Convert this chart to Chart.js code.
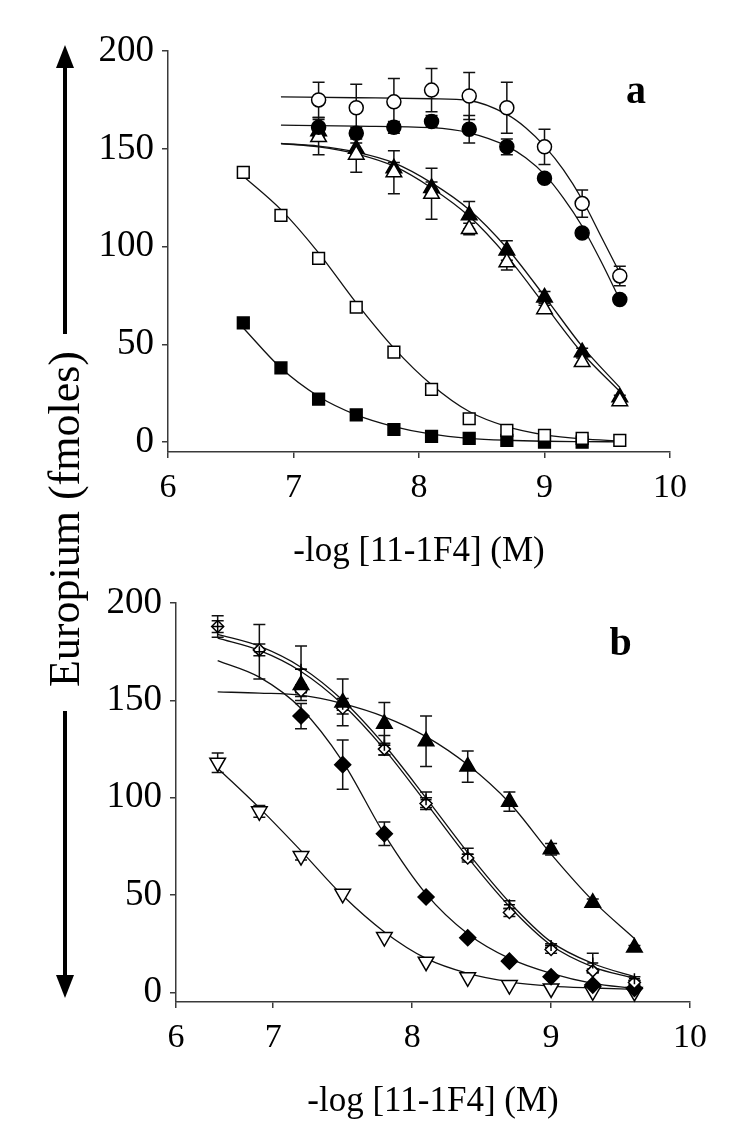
<!DOCTYPE html>
<html>
<head>
<meta charset="utf-8">
<script src="https://cdn.jsdelivr.net/npm/chart.js@4.4.1/dist/chart.umd.min.js"></script>
<style>
  html, body { margin: 0; padding: 0; background: #fff; }
  #wrap { position: relative; width: 750px; height: 1146px; }
  canvas { position: absolute; left: 0; }
</style>
</head>
<body>
<div id="wrap">
  <canvas id="chartA" width="750" height="573" style="top:0"></canvas>
  <canvas id="chartB" width="750" height="573" style="top:573px"></canvas>
  <canvas id="yLabel" width="100" height="1146" style="top:0"></canvas>
</div>
<script>
// ---- doses : -log [11-1F4] (M) ----
const doses = [6.6, 6.9, 7.2, 7.5, 7.8, 8.1, 8.4, 8.7, 9.0, 9.3, 9.6];
const dosesFrom72 = doses.slice(2);
const dosesFrom69 = doses.slice(1);

const yTicks = [0, 50, 100, 150, 200];
const xTicksA = [6, 7, 8, 9, 10];
const xTicksB = [6.3, 7, 8, 9, 10];
const xTickLabels = ["6", "7", "8", "9", "10"];

// ---- panel a : measured points (fmoles) and SEM ----
const openCircleA   = [175, 171, 174, 180, 177, 171, 151, 122, 85];
const openCircleErrA = [9, 12, 12, 11, 12, 13, 9, 7, 5];
const filledCircleA = [161, 158, 161, 164, 160, 151, 135, 107, 73];
const filledCircleErrA = [5, 3, 3, 3, 7, 4, 2, 2, 2];
const filledTriA    = [159, 150, 140, 130, 116, 98, 74, 46, 23];
const filledTriErrA = [3, 3, 3, 3, 7, 5, 3, 2, 1];
const openTriA      = [156, 147, 138, 127, 109, 92, 68, 41, 21];
const openTriErrA   = [9, 9, 11, 13, 3, 4, 2, 2, 1];
const openSquareA   = [138, 116, 94, 69, 46, 27, 12, 6, 3.5, 2, 1];
const filledSquareA = [61, 38, 22, 14, 6.5, 3, 2, 1, 0, 0];

// ---- panel a : fitted curves ----
const circleFitX       = [6.9, 7.5, 8.1, 8.4, 8.7, 8.85, 9.0, 9.15, 9.3, 9.45, 9.6];
const openCircleFitA   = [176.5, 176.1, 175.6, 174.7, 167.6, 160.8, 151.4, 139.4, 124.1, 105.3, 86.5];
const filledCircleFitA = [162.1, 161.6, 160.8, 158.2, 151.4, 145.4, 136.9, 124.9, 110.4, 92.5, 72.9];
const filledTriFitA    = [152.7, 151.4, 148.3, 142.8, 132.6, 118.9, 99.3, 74.6, 49.0, 28.0];
const openTriFitA      = [152.7, 151.0, 147.4, 141.1, 130.0, 115.5, 95.1, 70.3, 45.6, 25.9];
const openSquareFitA   = [136.0, 118.9, 96.8, 71.2, 48.1, 29.4, 15.7, 8.0, 3.8, 1.7, 0.7];
const filledSquareFitA = [58.4, 37.9, 23.4, 14.0, 8.0, 4.1, 2.0, 1.0, 0.5, 0.3, 0.2];

// ---- panel b : measured points and SEM ----
const filledTriB      = [158, 149, 138, 129, 116, 98, 73.5, 46, 23];
const filledTriErrB   = [8, 12, 11, 13, 8, 5, 3, 2, 1];
const openDiamondB    = [188, 176, 155, 146, 125, 97, 69, 41, 22, 11, 5];
const openDiamondErrB = [3, 3, 3, 3, 3, 3, 2, 2, 2, 1, 1];
const crossB          = [188, 175, 166, 148, 127, 99, 71, 45, 24, 15, 7];
const crossErrB       = [5.5, 14, 12, 3, 5, 4, 3, 2, 1, 5, 1];
const filledDiamondB  = [142, 117, 81.5, 49, 28, 16, 8, 3.7, 2];
const filledDiamondErrB = [6.5, 12.7, 6, 0, 0, 0, 0, 0, 0];
const downTriB        = [118, 93, 70, 50.6, 28.4, 15.7, 7.7, 3.7, 2, 0.5, 0.2];
const downTriErrB     = [5, 3, 2, 0, 0, 0, 0, 0, 0, 0, 0];

// ---- panel b : fitted curves ----
const filledTriFitB     = [154.4, 153.8, 152.7, 148.4, 141.6, 131.4, 116.9, 97.4, 71.0, 47.1, 27.6];
const crossFitB         = [184.0, 177.9, 167.1, 150.1, 127.1, 99.9, 71.8, 46.3, 25.9, 14.8, 8.0];
const openDiamondFitB   = [182.0, 175.7, 164.9, 147.9, 124.9, 97.4, 69.3, 44.1, 24.2, 13.1, 7.1];
const filledDiamondFitB = [170.5, 162.0, 145.9, 118.6, 81.2, 50.6, 30.1, 17.4, 9.7, 4.6, 2.0];
const downTriFitB       = [115.2, 94.8, 72.7, 49.7, 31.0, 17.4, 9.7, 5.4, 3.2, 2.2, 1.5];

const serif = '"Liberation Serif", "Times New Roman", serif';
const axisColor = "#3a3a3a";

// ---- helpers ----
function toPoints(xs, ys) {
    return ys.map((v, i) => ({ x: xs[i], y: v }));
}

function markers(xs, ys, errs, style, fill, radius, extra) {
    return Object.assign({
        data: toPoints(xs, ys),
        errors: errs,
        showLine: false,
        pointStyle: style,
        pointRadius: radius,
        pointHoverRadius: radius,
        pointBackgroundColor: fill,
        pointBorderColor: "#000",
        pointBorderWidth: 1.5,
        clip: false,
        order: 0
    }, extra || {});
}

function fitCurve(xs, ys) {
    return {
        data: toPoints(xs, ys),
        showLine: true,
        pointRadius: 0,
        borderColor: "#111",
        borderWidth: 1.3,
        cubicInterpolationMode: "monotone",
        order: 1
    };
}

// error bars drawn through the chart's own scales
const errorBars = {
    id: "errorBars",
    beforeDatasetsDraw(chart) {
        const { ctx, scales: { x, y } } = chart;
        ctx.save();
        ctx.strokeStyle = "#111";
        ctx.lineWidth = 1.5;
        chart.data.datasets.forEach(ds => {
            if (!ds.errors) return;
            ds.data.forEach((p, i) => {
                const e = ds.errors[i];
                if (!e) return;
                const px = x.getPixelForValue(p.x);
                const top = y.getPixelForValue(p.y + e);
                const bot = y.getPixelForValue(p.y - e);
                ctx.beginPath();
                ctx.moveTo(px, top); ctx.lineTo(px, bot);
                ctx.moveTo(px - 6, top); ctx.lineTo(px + 6, top);
                ctx.moveTo(px - 6, bot); ctx.lineTo(px + 6, bot);
                ctx.stroke();
            });
        });
        ctx.restore();
    }
};

// panel letter (a / b)
const panelLetter = {
    id: "panelLetter",
    afterDraw(chart, args, opts) {
        const { ctx, scales: { x, y } } = chart;
        ctx.save();
        ctx.font = "bold 40px " + serif;
        ctx.fillStyle = "#000";
        ctx.textAlign = "center";
        ctx.textBaseline = "middle";
        ctx.fillText(opts.text, x.getPixelForValue(opts.x), y.getPixelForValue(opts.y));
        ctx.restore();
    }
};

function xScale(min, tickValues, height) {
    return {
        type: "linear", min: min, max: 10,
        afterBuildTicks: s => { s.ticks = tickValues.map(v => ({ value: v })); },
        afterFit: s => { s.height = height; },
        grid: { drawOnChartArea: false, drawTicks: true, tickLength: 6, color: axisColor, lineWidth: 1.5 },
        border: { display: true, color: axisColor, width: 1.5 },
        ticks: {
            padding: 10, color: "#000", maxRotation: 0, autoSkip: false,
            font: { family: serif, size: 34 },
            callback: (v, i) => xTickLabels[i]
        },
        title: { display: true, text: "-log [11-1F4] (M)", color: "#000", padding: 0, font: { family: serif, size: 35 } }
    };
}

function yScale(width) {
    return {
        type: "linear", min: -5, max: 200,
        afterBuildTicks: s => { s.ticks = yTicks.map(v => ({ value: v })); },
        afterFit: s => { s.width = width; },
        grid: { drawOnChartArea: false, drawTicks: true, tickLength: 6, color: axisColor, lineWidth: 1.5 },
        border: { display: true, color: axisColor, width: 1.5 },
        ticks: { padding: 8, color: "#000", font: { family: serif, size: 37 }, callback: v => String(v) }
    };
}

function baseOptions(padding, xs, ys, letter) {
    return {
        responsive: false,
        animation: false,
        layout: { padding: padding },
        plugins: { legend: { display: false }, tooltip: { enabled: false }, panelLetter: letter },
        scales: { x: xs, y: ys }
    };
}

// ---- panel a ----
new Chart(document.getElementById("chartA"), {
    type: "scatter",
    data: {
        datasets: [
            markers(dosesFrom72, openCircleA, openCircleErrA, "circle", "#fff", 7),
            markers(dosesFrom72, filledCircleA, filledCircleErrA, "circle", "#000", 7),
            markers(dosesFrom72, openTriA, openTriErrA, "triangle", "#fff", 9),
            markers(dosesFrom72, filledTriA, filledTriErrA, "triangle", "#000", 9),
            markers(doses, openSquareA, null, "rect", "#fff", 8.3),
            markers(doses, filledSquareA, null, "rect", "#000", 8.3),
            fitCurve(circleFitX, openCircleFitA),
            fitCurve(circleFitX, filledCircleFitA),
            fitCurve(dosesFrom69, filledTriFitA),
            fitCurve(dosesFrom69, openTriFitA),
            fitCurve(doses, openSquareFitA),
            fitCurve(doses, filledSquareFitA)
        ]
    },
    options: baseOptions({ left: 0, right: 80, top: 51, bottom: 0 },
        xScale(6, xTicksA, 121), yScale(168), { text: "a", x: 9.73, y: 178.5 }),
    plugins: [errorBars, panelLetter]
});

// ---- panel b ----
new Chart(document.getElementById("chartB"), {
    type: "scatter",
    data: {
        datasets: [
            markers(dosesFrom72, filledTriB, filledTriErrB, "triangle", "#000", 9),
            markers(doses, crossB, crossErrB, "cross", "#000", 5.5),
            markers(doses, openDiamondB, openDiamondErrB, "rectRot", "#fff", 6),
            markers(dosesFrom72, filledDiamondB, filledDiamondErrB, "rectRot", "#000", 8),
            markers(doses, downTriB, downTriErrB, "triangle", "#fff", 9, { pointRotation: 180 }),
            fitCurve(doses, filledTriFitB),
            fitCurve(doses, crossFitB),
            fitCurve(doses, openDiamondFitB),
            fitCurve(doses, filledDiamondFitB),
            fitCurve(doses, downTriFitB)
        ]
    },
    options: baseOptions({ left: 0, right: 60, top: 28, bottom: 23 },
        xScale(6.3, xTicksB, 121), yScale(176), { text: "b", x: 9.5, y: 178.5 }),
    plugins: [errorBars, panelLetter]
});

// ---- shared y label with arrows ----
const lc = document.getElementById("yLabel").getContext("2d");
lc.fillStyle = "#000";
lc.strokeStyle = "#000";
lc.lineWidth = 4;
lc.beginPath(); lc.moveTo(65, 62); lc.lineTo(65, 334); lc.stroke();
lc.beginPath(); lc.moveTo(65, 45); lc.lineTo(56, 68); lc.lineTo(74, 68); lc.closePath(); lc.fill();
lc.beginPath(); lc.moveTo(65, 711); lc.lineTo(65, 980); lc.stroke();
lc.beginPath(); lc.moveTo(65, 998); lc.lineTo(56, 975); lc.lineTo(74, 975); lc.closePath(); lc.fill();
lc.save();
lc.translate(67, 519);
lc.rotate(-Math.PI / 2);
lc.font = "44px " + serif;
lc.textAlign = "center";
lc.textBaseline = "middle";
lc.fillText("Europium (fmoles)", 0, 0);
lc.restore();
</script>
</body>
</html>
